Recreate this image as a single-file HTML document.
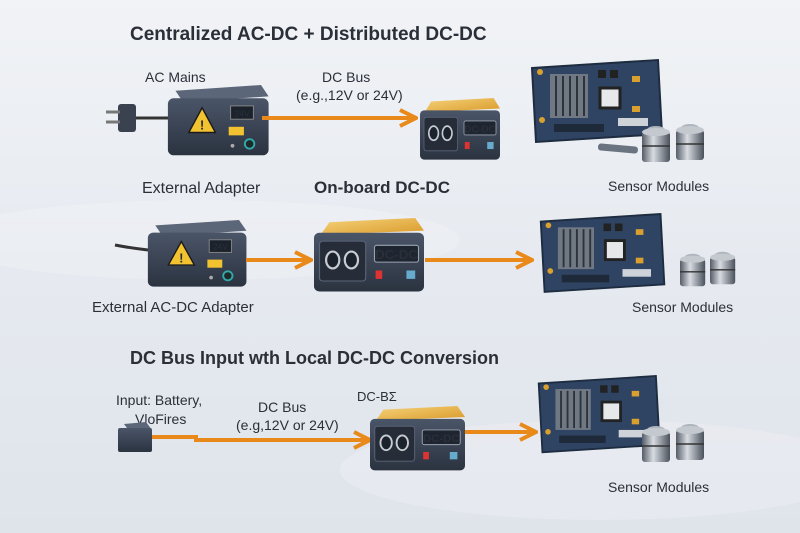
<!DOCTYPE html>
<html><head><meta charset="utf-8"><style>
html,body{margin:0;padding:0;width:800px;height:533px;overflow:hidden;background:#e8ecf1}
svg{display:block}
text{font-family:"Liberation Sans","DejaVu Sans",sans-serif;fill:#2a2f38}
</style></head><body>
<svg width="800" height="533" viewBox="0 0 800 533" xmlns="http://www.w3.org/2000/svg">
<defs>
<linearGradient id="bg" x1="0" y1="0" x2="0" y2="1">
<stop offset="0" stop-color="#f1f3f6"/><stop offset="0.5" stop-color="#e6eaf0"/><stop offset="1" stop-color="#dfe4eb"/></linearGradient>
<linearGradient id="gold" x1="0" y1="0" x2="1" y2="1"><stop offset="0" stop-color="#f6d27a"/><stop offset="1" stop-color="#d99a2a"/></linearGradient>
<linearGradient id="dark" x1="0" y1="0" x2="0" y2="1"><stop offset="0" stop-color="#4a5568"/><stop offset="1" stop-color="#2b3340"/></linearGradient>
<linearGradient id="cyl" x1="0" y1="0" x2="1" y2="0"><stop offset="0" stop-color="#555c66"/><stop offset="0.4" stop-color="#d8dce2"/><stop offset="1" stop-color="#4a515b"/></linearGradient>
<g id="dcdc">
<polygon points="6,16 14,4 92,0 100,12" fill="url(#gold)"/>
<rect x="0" y="14" width="100" height="56" rx="5" fill="url(#dark)"/>
<rect x="5" y="22" width="42" height="38" rx="3" fill="#262d38" stroke="#5a6577"/>
<ellipse cx="17" cy="40" rx="6" ry="8" fill="#1c222b" stroke="#c8ccd2" stroke-width="2"/>
<ellipse cx="34" cy="40" rx="6" ry="8" fill="#1c222b" stroke="#c8ccd2" stroke-width="2"/>
<rect x="55" y="26" width="40" height="16" rx="2" fill="#1e2530" stroke="#9aa3b0"/>
<text x="75" y="39" font-size="12" font-weight="bold" text-anchor="middle" fill="#f0f0f0">DC-DC</text>
<rect x="56" y="50" width="6" height="8" fill="#d33"/>
<rect x="84" y="50" width="8" height="8" fill="#6ac"/>
</g>
<g id="adapter">
<polygon points="10,6 100,0 108,12 18,18" fill="#5b6678"/>
<rect x="2" y="14" width="106" height="60" rx="6" fill="url(#dark)"/>
<polygon points="24,50 38,24 52,50" fill="#f2c230" stroke="#1b1b1b" stroke-width="1.5"/>
<text x="38" y="47" font-size="14" font-weight="bold" text-anchor="middle" fill="#111">!</text>
<rect x="68" y="22" width="24" height="14" fill="#1c222b" stroke="#888"/>
<text x="80" y="33" font-size="9" text-anchor="middle" fill="#eee">24V</text>
<rect x="66" y="44" width="16" height="9" fill="#f2c230"/>
<circle cx="88" cy="62" r="5" fill="#1e2a2a" stroke="#3aa" stroke-width="2"/>
<circle cx="70" cy="64" r="2" fill="#aaa"/>
</g>
<g id="board">
<polygon points="4,8 130,0 134,74 8,82" fill="#2f4463" stroke="#1e2c40" stroke-width="2"/>
<rect x="22" y="14" width="38" height="44" fill="#707884"/>
<g stroke="#2d333b" stroke-width="2"><line x1="28" y1="16" x2="28" y2="56"/><line x1="35" y1="16" x2="35" y2="56"/><line x1="42" y1="16" x2="42" y2="56"/><line x1="49" y1="16" x2="49" y2="56"/><line x1="56" y1="16" x2="56" y2="56"/></g>
<rect x="72" y="28" width="20" height="20" fill="#e6e8ea" stroke="#222" stroke-width="3"/>
<rect x="70" y="10" width="8" height="8" fill="#222"/><rect x="82" y="10" width="8" height="8" fill="#222"/>
<rect x="104" y="16" width="8" height="6" fill="#d9a030"/><rect x="104" y="46" width="8" height="6" fill="#d9a030"/>
<rect x="26" y="64" width="50" height="8" fill="#1e2a3a"/>
<rect x="90" y="58" width="30" height="8" fill="#cdd3d9"/>
<circle cx="12" cy="12" r="3" fill="#d9a030"/><circle cx="14" cy="60" r="3" fill="#d9a030"/>
</g>
<g id="sensor">
<ellipse cx="14" cy="6" rx="9" ry="4" fill="#aeb4bc"/>
<rect x="0" y="8" width="28" height="30" rx="3" fill="url(#cyl)"/>
<ellipse cx="14" cy="8" rx="14" ry="4" fill="#c4c9d0"/>
<line x1="0" y1="22" x2="28" y2="22" stroke="#333" stroke-width="1.5"/>
</g>
<marker id="ar" viewBox="0 0 10 10" refX="8" refY="5" markerWidth="5" markerHeight="5" orient="auto"><path d="M1,1 L9,5 L1,9" fill="none" stroke="#e8891a" stroke-width="2"/></marker>
</defs>
<rect width="800" height="533" fill="url(#bg)"/>
<ellipse cx="200" cy="240" rx="260" ry="40" fill="#f4f6f9" opacity="0.3"/>
<ellipse cx="600" cy="470" rx="260" ry="50" fill="#f4f6f9" opacity="0.3"/>

<text x="130" y="40" font-size="19" font-weight="bold">Centralized AC-DC + Distributed DC-DC</text>
<text x="145" y="82" font-size="14">AC Mains</text>
<text x="322" y="82" font-size="14">DC Bus</text>
<text x="296" y="100" font-size="14">(e.g.,12V or 24V)</text>
<rect x="118" y="104" width="18" height="28" rx="3" fill="#3a4250"/>
<line x1="106" y1="112" x2="120" y2="112" stroke="#777" stroke-width="3"/>
<line x1="106" y1="122" x2="120" y2="122" stroke="#777" stroke-width="3"/>
<line x1="136" y1="118" x2="170" y2="118" stroke="#333" stroke-width="3"/>
<use href="#adapter" transform="translate(166,85) scale(0.95)"/>
<line x1="262" y1="118" x2="414" y2="118" stroke="#e8891a" stroke-width="4" marker-end="url(#ar)"/>
<use href="#dcdc" transform="translate(420,98) scale(0.8,0.88)"/>
<use href="#board" transform="translate(528,60)"/>
<rect x="598" y="145" width="40" height="7" rx="3" fill="#6a7380" transform="rotate(5 618 148)"/>
<use href="#sensor" transform="translate(642,124)"/>
<use href="#sensor" transform="translate(676,122)"/>
<text x="142" y="193" font-size="16">External Adapter</text>
<text x="314" y="193" font-size="17" font-weight="bold">On-board DC-DC</text>
<text x="608" y="191" font-size="14">Sensor Modules</text>

<path d="M115,245 Q130,248 148,250" fill="none" stroke="#333" stroke-width="3"/>
<use href="#adapter" transform="translate(146,220) scale(0.93,0.9)"/>
<line x1="246" y1="260" x2="309" y2="260" stroke="#e8891a" stroke-width="4" marker-end="url(#ar)"/>
<use href="#dcdc" transform="translate(314,218) scale(1.1,1.05)"/>
<line x1="425" y1="260" x2="530" y2="260" stroke="#e8891a" stroke-width="4" marker-end="url(#ar)"/>
<use href="#board" transform="translate(537,214) scale(0.95)"/>
<use href="#sensor" transform="translate(680,252) scale(0.9)"/>
<use href="#sensor" transform="translate(710,250) scale(0.9)"/>
<text x="92" y="312" font-size="15">External AC-DC Adapter</text>
<text x="632" y="312" font-size="14">Sensor Modules</text>

<text x="130" y="364" font-size="18" font-weight="bold">DC Bus Input wth Local DC-DC Conversion</text>
<text x="116" y="405" font-size="14">Input: Battery,</text>
<text x="135" y="424" font-size="14">VloFires</text>
<text x="258" y="412" font-size="14">DC Bus</text>
<text x="236" y="430" font-size="14">(e.g,12V or 24V)</text>
<text x="357" y="401" font-size="13">DC-BΣ</text>
<polygon points="124,424 146,422 152,430 130,432" fill="#5b6678"/>
<rect x="118" y="428" width="34" height="24" rx="2" fill="url(#dark)"/>
<polyline points="152,437 196,437 196,440 368,440" fill="none" stroke="#e8891a" stroke-width="4" marker-end="url(#ar)"/>
<use href="#dcdc" transform="translate(370,406) scale(0.95,0.92)"/>
<line x1="465" y1="432" x2="534" y2="432" stroke="#e8891a" stroke-width="4" marker-end="url(#ar)"/>
<use href="#board" transform="translate(535,376) scale(0.93)"/>
<use href="#sensor" transform="translate(642,424)"/>
<use href="#sensor" transform="translate(676,422)"/>
<text x="608" y="492" font-size="14">Sensor Modules</text>
</svg>
</body></html>
